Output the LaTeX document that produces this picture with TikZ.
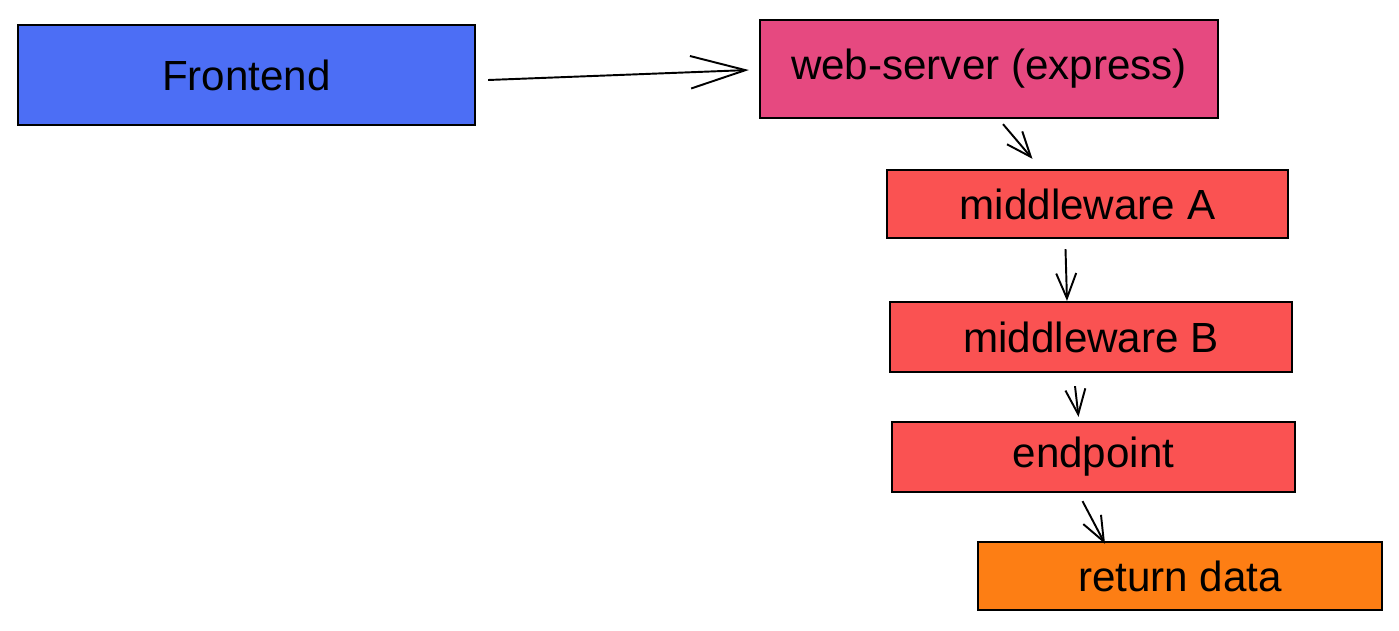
\documentclass[tikz,border=0pt]{standalone}
\usepackage{fontspec}
\setmainfont{Liberation Sans}
\usepackage{xcolor}
\usepackage{tikz}
\usetikzlibrary{positioning, arrows.meta, calc}
\definecolor{sketchBlue}{HTML}{4C6EF5}
\definecolor{sketchPink}{HTML}{E64980}
\definecolor{sketchRed}{HTML}{FA5252}
\definecolor{sketchOrange}{HTML}{FD7E14}
\definecolor{sketchInk}{HTML}{000000}

\begin{document}
\begin{tikzpicture}[
  x=0.02cm, y=-0.02cm,
  every node/.style={font=\fontsize{24}{28}\selectfont},
  stagebox/.style={
    rectangle, draw=sketchInk, line width=1.3pt,
    text=sketchInk, inner sep=0pt, align=center
  },
  flow/.style={
    -{Straight Barb[length=0.5cm, width=0.4cm]}, sketchInk, line width=1.1pt
  },
  bigflow/.style={
    -{Straight Barb[length=1.1cm, width=0.65cm]}, sketchInk, line width=1.1pt
  },
]
\useasboundingbox (0,0) rectangle (1399,630);

% Boxes
\node[stagebox, fill=sketchBlue, minimum width=9.14cm, minimum height=2cm] (front) at (246.5,75) {Frontend};
\node[stagebox, fill=sketchPink, minimum width=9.16cm, minimum height=1.96cm] (web) at (989,69) {web-server (express)};
\node[stagebox, fill=sketchRed, minimum width=8.02cm, minimum height=1.36cm] (mwa) at (1087.5,204) {middleware A};
\node[stagebox, fill=sketchRed, minimum width=8.04cm, minimum height=1.4cm] (mwb) at (1091,337) {middleware B};
\node[stagebox, fill=sketchRed, minimum width=8.06cm, minimum height=1.4cm] (endp) at (1093.5,457) {endpoint};
\node[stagebox, fill=sketchOrange, minimum width=8.08cm, minimum height=1.36cm] (ret) at (1180,576) {return data};

% Arrows
\draw[bigflow] ($(front.east)+(12,5)$) -- ($(web.west)+(-10,1)$);
\draw[flow] ($(web.south)+(14,5)$) -- ($(mwa.north)+(-55,-10)$);
\draw[flow] ($(mwa.south)+(-22,10)$) -- ($(mwb.north)+(-24,0)$);
\draw[flow] ($(mwb.south)+(-16,13)$) -- ($(endp.north)+(-15,-4)$);
\draw[flow] ($(endp.south)+(-11,8)$) -- ($(ret.north)+(-75,3)$);

\end{tikzpicture}
\end{document}
